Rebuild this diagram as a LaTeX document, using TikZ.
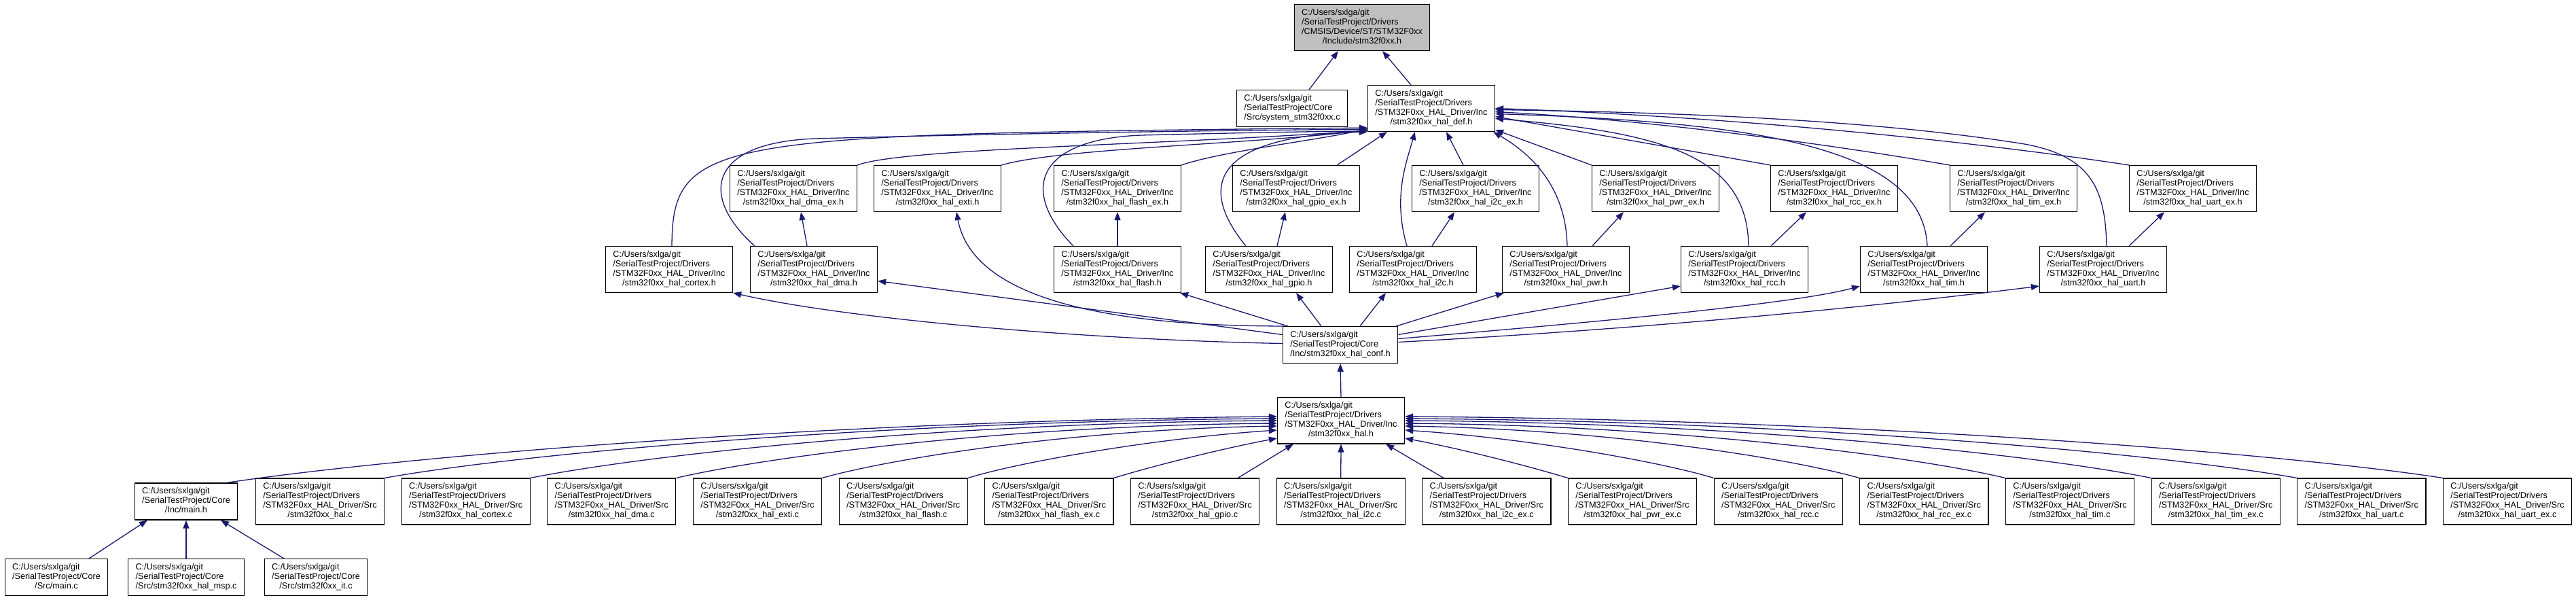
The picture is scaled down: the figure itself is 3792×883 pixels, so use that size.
\documentclass[tikz,border=0pt]{standalone}
\usepackage{fontspec}
\setmainfont{Liberation Sans}
\usetikzlibrary{arrows.meta,calc}
\definecolor{edgec}{HTML}{191970}
\definecolor{topfill}{HTML}{BFBFBF}
\newcommand{\boxfour}[4]{\begin{tabular}{@{}l@{}}#1\\#2\\#3\\\multicolumn{1}{@{}c@{}}{#4}\end{tabular}}
\newcommand{\boxthree}[3]{\begin{tabular}{@{}l@{}}#1\\#2\\\multicolumn{1}{@{}c@{}}{#3}\end{tabular}}
\newcommand{\xpA}{C:/Users/sxlga/git}
\newcommand{\xpD}{/SerialTestProject/Drivers}
\newcommand{\xpC}{/SerialTestProject/Core}
\newcommand{\xpI}{/STM32F0xx\_HAL\_Driver/Inc}
\newcommand{\xpS}{/STM32F0xx\_HAL\_Driver/Src}
\newcommand{\hinc}[1]{\boxfour{\xpA}{\xpD}{\xpI}{#1}}
\newcommand{\hsrc}[1]{\boxfour{\xpA}{\xpD}{\xpS}{#1}}
\newcommand{\hcore}[1]{\boxthree{\xpA}{\xpC}{#1}}
\begin{document}
\begin{tikzpicture}[x=1pt,y=-1pt,
 box/.style={draw=black, line width=1.1pt, fill=white, inner xsep=11pt, inner ysep=6pt,
   font=\fontsize{12.7}{14}\selectfont, anchor=center},
 edge/.style={draw=edgec, line width=1.3pt, -{Triangle[length=12pt,width=9pt]}}]
\useasboundingbox (0,0) rectangle (3792,883);
\fill[white] (0,0) rectangle (3792,883);
% row 0 and 1
\node[box, fill=topfill] (top) at (2005,40.5) {\boxfour{\xpA}{\xpD}{/CMSIS/Device/ST/STM32F0xx}{/Include/stm32f0xx.h}};
\node[box] (sys) at (1902,159.5) {\hcore{/Src/system\_stm32f0xx.c}};
\node[box] (def) at (2107,159.5) {\hinc{/stm32f0xx\_hal\_def.h}};
% row 2
\node[box] (dmaex) at (1168,277.5) {\hinc{/stm32f0xx\_hal\_dma\_ex.h}};
\node[box] (exti) at (1380,277.5) {\hinc{/stm32f0xx\_hal\_exti.h}};
\node[box] (flashex) at (1645,277.5) {\hinc{/stm32f0xx\_hal\_flash\_ex.h}};
\node[box] (gpioex) at (1908,277.5) {\hinc{/stm32f0xx\_hal\_gpio\_ex.h}};
\node[box] (i2cex) at (2172,277.5) {\hinc{/stm32f0xx\_hal\_i2c\_ex.h}};
\node[box] (pwrex) at (2437,277.5) {\hinc{/stm32f0xx\_hal\_pwr\_ex.h}};
\node[box] (rccex) at (2700,277.5) {\hinc{/stm32f0xx\_hal\_rcc\_ex.h}};
\node[box] (timex) at (2964,277.5) {\hinc{/stm32f0xx\_hal\_tim\_ex.h}};
\node[box] (uartex) at (3228,277.5) {\hinc{/stm32f0xx\_hal\_uart\_ex.h}};
% row 3
\node[box] (cortex) at (985,396.5) {\hinc{/stm32f0xx\_hal\_cortex.h}};
\node[box] (dma) at (1198,396.5) {\hinc{/stm32f0xx\_hal\_dma.h}};
\node[box] (flash) at (1645,396.5) {\hinc{/stm32f0xx\_hal\_flash.h}};
\node[box] (gpio) at (1868,396.5) {\hinc{/stm32f0xx\_hal\_gpio.h}};
\node[box] (i2c) at (2080,396.5) {\hinc{/stm32f0xx\_hal\_i2c.h}};
\node[box] (pwr) at (2305,396.5) {\hinc{/stm32f0xx\_hal\_pwr.h}};
\node[box] (rcc) at (2568,396.5) {\hinc{/stm32f0xx\_hal\_rcc.h}};
\node[box] (tim) at (2832,396.5) {\hinc{/stm32f0xx\_hal\_tim.h}};
\node[box] (uart) at (3096,396.5) {\hinc{/stm32f0xx\_hal\_uart.h}};
% row 4, 5
\node[box] (conf) at (1973,507.5) {\hcore{/Inc/stm32f0xx\_hal\_conf.h}};
\node[box] (hal) at (1974,619) {\hinc{/stm32f0xx\_hal.h}};
% row 6
\node[box] (mainh) at (274,738) {\hcore{/Inc/main.h}};
\node[box] (halc) at (471,738) {\hsrc{/stm32f0xx\_hal.c}};
\node[box] (cortexc) at (685.7,738) {\hsrc{/stm32f0xx\_hal\_cortex.c}};
\node[box] (dmac) at (900.3,738) {\hsrc{/stm32f0xx\_hal\_dma.c}};
\node[box] (extic) at (1115,738) {\hsrc{/stm32f0xx\_hal\_exti.c}};
\node[box] (flashc) at (1329.7,738) {\hsrc{/stm32f0xx\_hal\_flash.c}};
\node[box] (flashexc) at (1544.3,738) {\hsrc{/stm32f0xx\_hal\_flash\_ex.c}};
\node[box] (gpioc) at (1759,738) {\hsrc{/stm32f0xx\_hal\_gpio.c}};
\node[box] (i2cc) at (1973.7,738) {\hsrc{/stm32f0xx\_hal\_i2c.c}};
\node[box] (i2cexc) at (2188.3,738) {\hsrc{/stm32f0xx\_hal\_i2c\_ex.c}};
\node[box] (pwrexc) at (2403,738) {\hsrc{/stm32f0xx\_hal\_pwr\_ex.c}};
\node[box] (rccc) at (2617.7,738) {\hsrc{/stm32f0xx\_hal\_rcc.c}};
\node[box] (rccexc) at (2832.3,738) {\hsrc{/stm32f0xx\_hal\_rcc\_ex.c}};
\node[box] (timc) at (3047,738) {\hsrc{/stm32f0xx\_hal\_tim.c}};
\node[box] (timexc) at (3261.7,738) {\hsrc{/stm32f0xx\_hal\_tim\_ex.c}};
\node[box] (uartc) at (3476.3,738) {\hsrc{/stm32f0xx\_hal\_uart.c}};
\node[box] (uartexc) at (3691,738) {\hsrc{/stm32f0xx\_hal\_uart\_ex.c}};
% row 7
\node[box] (mainc) at (83,849.5) {\hcore{/Src/main.c}};
\node[box] (mspc) at (274,849.5) {\hcore{/Src/stm32f0xx\_hal\_msp.c}};
\node[box] (itc) at (465,849.5) {\hcore{/Src/stm32f0xx\_it.c}};

% edges to top
\draw[edge] ($(sys.north)+(25,0)$) -- ($(top.south)+(-35,0)$);
\draw[edge] ($(def.north)+(-30,0)$) -- ($(top.south)+(30,0)$);
% edges to def, left side
\draw[edge] ($(cortex.north)+(4,0)$) .. controls (990,200) and (1050,198) .. ($(def.south west)+(0,-6)$);
\draw[edge] ($(dma.north west)+(7,0)$) .. controls (1030,290) and (1040,210) .. (1200,204) .. controls (1500,196) and (1800,192) .. ($(def.south west)+(0,-4)$);
\draw[edge] (dmaex.north east) .. controls (1330,218) and (1700,214) .. ($(def.south west)+(0,-2)$);
\draw[edge] (exti.north east) .. controls (1560,218) and (1850,212) .. ($(def.south west)+(0,-3)$);
\draw[edge] ($(flash.north west)+(29,0)$) .. controls (1500,280) and (1525,205) .. (1680,199) .. controls (1800,196) and (1950,193) .. ($(def.south west)+(0,-1)$);
\draw[edge] (flashex.north east) .. controls (1800,222) and (1950,205) .. ($(def.south west)+(0,-5)$);
\draw[edge] ($(gpio.north west)+(60,0)$) .. controls (1755,265) and (1800,200) .. (def.south west);
\draw[edge] ($(gpioex.north east)+(-34,0)$) -- ($(def.south west)+(29,0)$);
% edges to def, right side
\draw[edge] ($(i2c.north)+(-9,0)$) .. controls (2050,290) and (2070,240) .. ($(def.south west)+(70,0)$);
\draw[edge] ($(i2cex.north)+(-18,0)$) -- ($(def.south)+(22,0)$);
\draw[edge] ($(pwr.north)+(2,0)$) .. controls (2305,280) and (2260,230) .. ($(def.south east)+(-3,0)$);
\draw[edge] (pwrex.north west) -- ($(def.south east)+(0,-3)$);
\draw[edge] ($(rcc.north)+(6,0)$) .. controls (2572,230) and (2450,195) .. ($(def.east)+(0,15)$);
\draw[edge] (rccex.north west) -- ($(def.east)+(0,12)$);
\draw[edge] ($(tim.north)+(5,0)$) .. controls (2830,220) and (2600,180) .. ($(def.east)+(0,8)$);
\draw[edge] (timex.north west) .. controls (2650,205) and (2400,175) .. ($(def.east)+(0,5)$);
\draw[edge] ($(uart.north)+(5,0)$) .. controls (3099,280) and (3080,230) .. (2980,212) .. controls (2750,175) and (2450,165) .. ($(def.east)+(0,2)$);
\draw[edge] (uartex.north west) .. controls (2850,200) and (2500,170) .. (def.east);
% ext headers
\draw[edge] ($(dma.north)+(-10,0)$) -- ($(dmaex.south)+(11,0)$);
\draw[edge] (flash.north) -- (flashex.south);
\draw[edge] ($(gpio.north)+(12,0)$) -- ($(gpioex.south)+(-16,0)$);
\draw[edge] ($(i2c.north)+(28,0)$) -- ($(i2cex.south)+(-31,0)$);
\draw[edge] ($(pwr.north)+(39,0)$) -- ($(pwrex.south)+(-47,0)$);
\draw[edge] ($(rcc.north)+(39,0)$) -- ($(rccex.south)+(-41,0)$);
\draw[edge] ($(tim.north)+(39,0)$) -- ($(timex.south)+(-42,0)$);
\draw[edge] ($(uart.north)+(38,0)$) -- ($(uartex.south)+(-42,0)$);
% conf
\draw[edge] ($(conf.north west)+(3,0)$) .. controls (1600,480) and (1430,430) .. ($(exti.south)+(28,0)$);
\draw[edge] ($(conf.north west)+(8,0)$) -- ($(flash.south east)+(-2,0)$);
\draw[edge] ($(conf.north)+(-28,0)$) -- ($(gpio.south)+(40,0)$);
\draw[edge] ($(conf.north)+(29,0)$) -- ($(i2c.south)+(-40,0)$);
\draw[edge] ($(conf.north east)+(-3,0)$) -- ($(pwr.south west)+(3,0)$);
\draw[edge] ($(conf.east)+(0,-15)$) -- ($(rcc.south west)+(0,-10)$);
\draw[edge] ($(conf.east)+(0,-9)$) .. controls (2400,470) and (2650,445) .. ($(tim.south west)+(0,-10)$);
\draw[edge] ($(conf.east)+(0,-4)$) .. controls (2500,480) and (2850,440) .. ($(uart.south west)+(0,-10)$);
\draw[edge] ($(conf.west)+(0,-15)$) -- ($(dma.east)+(0,17)$);
\draw[edge] ($(conf.west)+(0,-2)$) .. controls (1600,500) and (1250,470) .. (cortex.south east);
\draw[edge] (hal.north) -- (conf.south);
% into hal, left
\draw[edge] ($(mainh.north east)+(-17,0)$) .. controls (567,675) and (1185,620) .. ($(hal.west)+(0,-6)$);
\draw[edge] (halc.north east) .. controls (763,668) and (1290,620) .. ($(hal.west)+(0,-3)$);
\draw[edge] (cortexc.north east) .. controls (946,670) and (1385,622) .. (hal.west);
\draw[edge] (dmac.north east) .. controls (1130,672) and (1483,626) .. ($(hal.west)+(0,4)$);
\draw[edge] (extic.north east) .. controls (1310,675) and (1580,632) .. ($(hal.west)+(0,8)$);
\draw[edge] (flashc.north east) .. controls (1500,680) and (1700,645) .. ($(hal.west)+(0,14)$);
\draw[edge] (flashexc.north east) .. controls (1700,685) and (1800,660) .. ($(hal.west)+(0,26)$);
\draw[edge] ($(gpioc.north east)+(-32,0)$) -- ($(hal.south west)+(24,0)$);
\draw[edge] (i2cc.north) -- (hal.south);
\draw[edge] ($(i2cexc.north west)+(32,0)$) -- ($(hal.south east)+(-28,0)$);
% into hal, right
\draw[edge] (pwrexc.north west) .. controls (2247,685) and (2148,660) .. ($(hal.east)+(0,26)$);
\draw[edge] (rccc.north west) .. controls (2446,680) and (2250,645) .. ($(hal.east)+(0,14)$);
\draw[edge] (rccexc.north west) .. controls (2637,675) and (2370,632) .. ($(hal.east)+(0,8)$);
\draw[edge] (timc.north west) .. controls (2820,672) and (2466,626) .. ($(hal.east)+(0,4)$);
\draw[edge] (timexc.north west) .. controls (3002,670) and (2562,622) .. (hal.east);
\draw[edge] (uartc.north west) .. controls (3185,668) and (2659,620) .. ($(hal.east)+(0,-3)$);
\draw[edge] (uartexc.north west) .. controls (3367,668) and (2756,618) .. ($(hal.east)+(0,-6)$);
% main.h
\draw[edge] ($(mainc.north)+(48,0)$) -- ($(mainh.south)+(-57,0)$);
\draw[edge] (mspc.north) -- (mainh.south);
\draw[edge] ($(itc.north)+(-47,0)$) -- ($(mainh.south)+(51,0)$);
\end{tikzpicture}
\end{document}
